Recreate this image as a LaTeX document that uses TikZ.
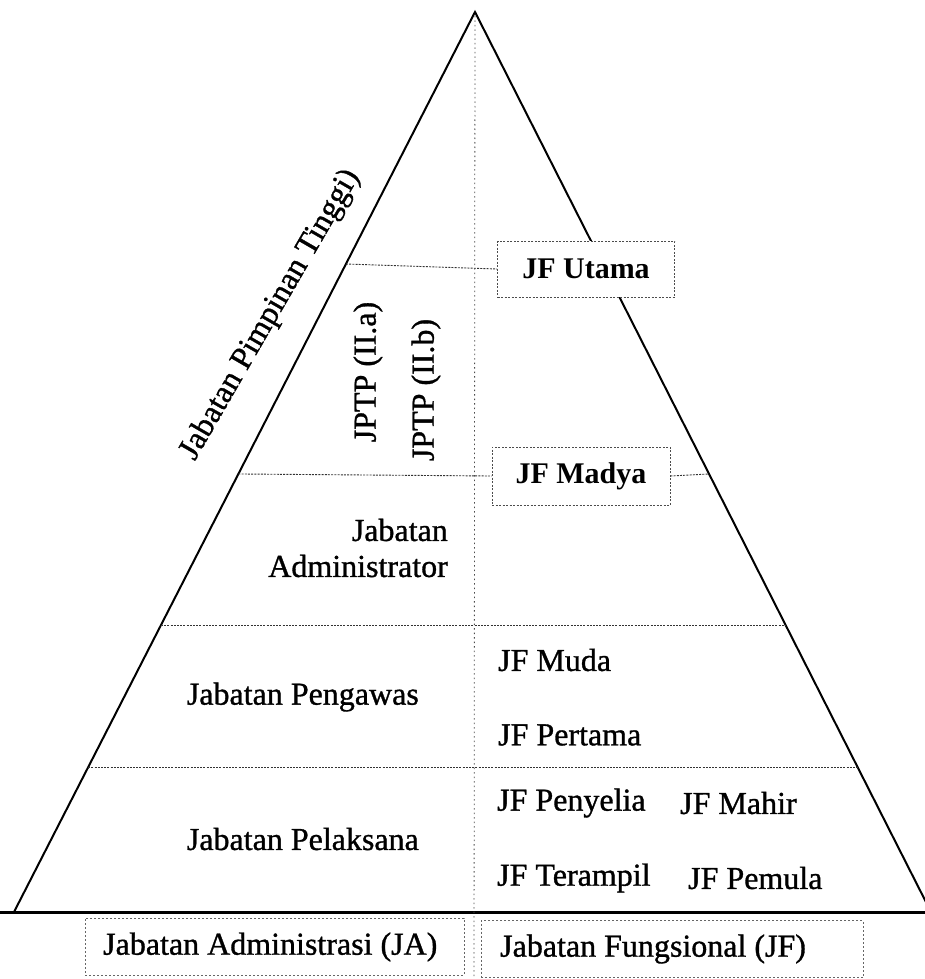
\documentclass[tikz,border=0pt]{standalone}
\usepackage{fontspec}
\setmainfont{Liberation Serif}
\newfontfamily\heavyserif{Liberation Serif}[FakeBold=1]
\usetikzlibrary{calc}
\begin{document}
\begin{tikzpicture}[x=1pt,y=-1pt,
  edge/.style={line width=2pt, black},
  baseline/.style={line width=3pt, black},
  dotline/.style={line width=0.9pt, black!80, dash pattern=on 2pt off 1.2pt},
  vline/.style={line width=0.8pt, black!70, dash pattern=on 1.5pt off 3pt},
  lbl/.style={font=\heavyserif\fontsize{32}{36}\selectfont, inner sep=0pt},
  jfbox/.style={draw=black!70, fill=white, line width=0.8pt, dash pattern=on 2pt off 1.5pt, font=\bfseries\fontsize{30}{34}\selectfont, inner sep=0pt},
  catbox/.style={draw=black!60, line width=0.8pt, dash pattern=on 2pt off 2pt},
  ]
\useasboundingbox (0,0) rectangle (924,979);
\coordinate (apex) at (475,12);
\coordinate (bl) at (14,912);
\coordinate (br) at (931,912);
% triangle
\draw[edge, line join=miter] (bl) -- (apex) -- (br);
\draw[baseline] (0,912) -- (935,912);
% vertical centre line
\coordinate (vtop) at (475,16);
\coordinate (vbot) at (474,979);
\draw[vline] (vtop) -- (vbot);
% JF boxes
\node[jfbox, minimum width=177pt, minimum height=56pt] (utama) at (586,269) {JF Utama};
\node[jfbox, minimum width=178pt, minimum height=58pt] (madya) at (581,476) {JF Madya};
% horizontal lines
\coordinate (lu) at ($(apex)!0.28!(bl)$);
\coordinate (lm) at ($(apex)!0.5133!(bl)$);
\coordinate (rm) at ($(apex)!0.5133!(br)$);
\coordinate (l3) at ($(apex)!0.6811!(bl)$);
\coordinate (r3) at ($(apex)!0.6811!(br)$);
\coordinate (l4) at ($(apex)!0.8389!(bl)$);
\coordinate (r4) at ($(apex)!0.8389!(br)$);
\draw[dotline] (lu) -- (utama.west);
\draw[dotline] (lm) -- (madya.west);
\draw[dotline] (madya.east) -- (rm);
\draw[dotline] (l3) -- (r3);
\draw[dotline] (l4) -- (r4);
% left labels
\node[lbl, rotate=60, anchor=east] (jpt) at (353,172) {Jabatan Pimpinan Tinggi)};
\node[lbl, rotate=90] (jptpa) at (368,372) {JPTP (II.a)};
\node[lbl, rotate=90] (jptpb) at (426,390) {JPTP (II.b)};
\node[lbl, align=right, anchor=east] (adm) at (448,548) {Jabatan\\Administrator};
\node[lbl, anchor=east] (peng) at (419,697) {Jabatan Pengawas};
\node[lbl, anchor=east] (pel) at (419,839) {Jabatan Pelaksana};
% right labels
\node[lbl, anchor=west] (muda) at (498,660) {JF Muda};
\node[lbl, anchor=west] (pert) at (498,735) {JF Pertama};
\node[lbl, anchor=west] (peny) at (497,803) {JF Penyelia};
\node[lbl, anchor=west] (mahir) at (680,803) {JF Mahir};
\node[lbl, anchor=west] (ter) at (497,878) {JF Terampil};
\node[lbl, anchor=west] (pemula) at (688,878) {JF Pemula};
% bottom category boxes
\node[catbox, minimum width=379pt, minimum height=57pt] (ja) at (274.5,946.5) {};
\node[lbl, anchor=west] (jat) at (103,947) {Jabatan Administrasi (JA)};
\node[catbox, minimum width=382pt, minimum height=57pt] (jf) at (672,949) {};
\node[lbl, anchor=west] (jft) at (500,949) {Jabatan Fungsional (JF)};
\end{tikzpicture}
\end{document}
